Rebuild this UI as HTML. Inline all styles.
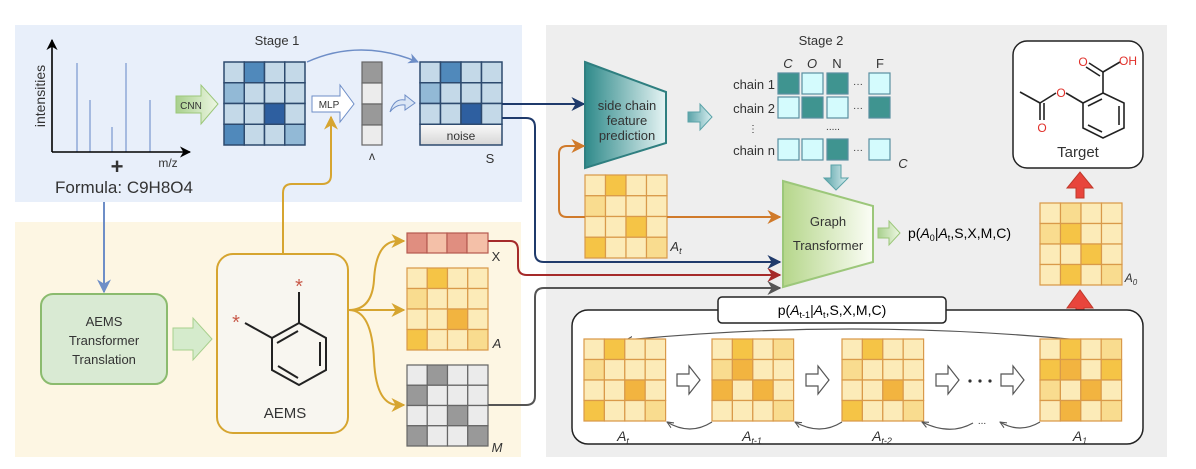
<!DOCTYPE html>
<html><head><meta charset="utf-8"><style>
html,body{margin:0;padding:0;background:#fff;width:1196px;height:469px;overflow:hidden}
text{font-family:"Liberation Sans",sans-serif;fill:#333}
.c rect{vector-effect:non-scaling-stroke}
</style></head><body>
<svg width="1196" height="469" viewBox="0 0 1196 469" xmlns="http://www.w3.org/2000/svg">
<defs>
<marker id="ab" viewBox="0 0 10 10" refX="9" refY="5" markerWidth="7" markerHeight="7" orient="auto"><path d="M0,0 L10,5 L0,10 L3,5z" fill="#1f3a6b"/></marker>
<marker id="ar" viewBox="0 0 10 10" refX="9" refY="5" markerWidth="7" markerHeight="7" orient="auto"><path d="M0,0 L10,5 L0,10 L3,5z" fill="#a52a2a"/></marker>
<marker id="ag" viewBox="0 0 10 10" refX="9" refY="5" markerWidth="7" markerHeight="7" orient="auto"><path d="M0,0 L10,5 L0,10 L3,5z" fill="#555"/></marker>
<marker id="ao" viewBox="0 0 10 10" refX="9" refY="5" markerWidth="7" markerHeight="7" orient="auto"><path d="M0,0 L10,5 L0,10 L3,5z" fill="#d07a2a"/></marker>
<marker id="ay" viewBox="0 0 10 10" refX="9" refY="5" markerWidth="7" markerHeight="7" orient="auto"><path d="M0,0 L10,5 L0,10 L3,5z" fill="#d6a530"/></marker>
<marker id="al" viewBox="0 0 10 10" refX="9" refY="5" markerWidth="7" markerHeight="7" orient="auto"><path d="M0,0 L10,5 L0,10 L3,5z" fill="#6e8ec7"/></marker>
<marker id="ak" viewBox="0 0 10 10" refX="9" refY="5" markerWidth="6" markerHeight="6" orient="auto"><path d="M0,1 L9,5 L0,9" fill="none" stroke="#555" stroke-width="1.5"/></marker>
<marker id="aa" viewBox="0 0 10 10" refX="9" refY="5" markerWidth="7" markerHeight="7" orient="auto"><path d="M0,0 L10,5 L0,10 L3,5z" fill="#000"/></marker>
<linearGradient id="teal" x1="0" x2="1"><stop offset="0" stop-color="#2f8a8a"/><stop offset="1" stop-color="#e6f4f4"/></linearGradient>
<linearGradient id="grn" x1="0" x2="1"><stop offset="0" stop-color="#b5d68a"/><stop offset="1" stop-color="#fbfdf6"/></linearGradient>
<linearGradient id="nz" x1="0" x2="0" y1="0" y2="1"><stop offset="0" stop-color="#fafafa"/><stop offset="1" stop-color="#d6d6d6"/></linearGradient>
<linearGradient id="gar" x1="0" x2="1"><stop offset="0" stop-color="#a8d08d"/><stop offset="1" stop-color="#eef7e4"/></linearGradient>
<linearGradient id="tar" x1="0" x2="1"><stop offset="0" stop-color="#5aa3a8"/><stop offset="1" stop-color="#d8eef0"/></linearGradient>
</defs>

<!-- panels -->
<rect x="15" y="25" width="507" height="177" fill="#e8effa"/>
<rect x="15" y="222" width="506" height="235" fill="#fdf6e3"/>
<rect x="546" y="25" width="621" height="432" fill="#eeeeee"/>

<!-- spectrum -->
<g stroke="#8fa8d8" stroke-width="1.5">
<line x1="77" y1="63" x2="77" y2="152"/><line x1="90" y1="100" x2="90" y2="152"/><line x1="112" y1="127" x2="112" y2="152"/><line x1="126" y1="63" x2="126" y2="152"/><line x1="150" y1="100" x2="150" y2="152"/>
</g>
<line x1="52" y1="152" x2="52" y2="40" stroke="#000" stroke-width="1.6" marker-end="url(#aa)"/>
<line x1="52" y1="152" x2="190" y2="152" stroke="#000" stroke-width="1.6" marker-end="url(#aa)"/>
<text x="45" y="96" font-size="14" text-anchor="middle" transform="rotate(-90 45 96)">intensities</text>
<text x="117" y="174" font-size="22" font-weight="bold" text-anchor="middle">+</text>
<text x="168" y="167" font-size="12" text-anchor="middle">m/z</text>
<text x="124" y="193" font-size="17" text-anchor="middle">Formula: C9H8O4</text>
<text x="277" y="45" font-size="13" text-anchor="middle">Stage 1</text>

<!-- CNN arrow -->
<path d="M176,96 H201 V85 L218,104 L201,124 V113 H176Z" fill="url(#gar)" stroke="#9cc77a"/>
<text x="191" y="109" font-size="10" text-anchor="middle">CNN</text>
<!-- grid1 -->
<g class="c" transform="translate(224,62) scale(20.25,20.75)" stroke="#2d4a6e" stroke-width="1.5">
<rect x="0" y="0" width="1" height="1" fill="#c4d9e8"/><rect x="1" y="0" width="1" height="1" fill="#5089bb"/><rect x="2" y="0" width="1" height="1" fill="#c4d9e8"/><rect x="3" y="0" width="1" height="1" fill="#c4d9e8"/>
<rect x="0" y="1" width="1" height="1" fill="#92b9d6"/><rect x="1" y="1" width="1" height="1" fill="#c4d9e8"/><rect x="2" y="1" width="1" height="1" fill="#c4d9e8"/><rect x="3" y="1" width="1" height="1" fill="#c4d9e8"/>
<rect x="0" y="2" width="1" height="1" fill="#c4d9e8"/><rect x="1" y="2" width="1" height="1" fill="#c4d9e8"/><rect x="2" y="2" width="1" height="1" fill="#2e5fa0"/><rect x="3" y="2" width="1" height="1" fill="#c4d9e8"/>
<rect x="0" y="3" width="1" height="1" fill="#5089bb"/><rect x="1" y="3" width="1" height="1" fill="#c4d9e8"/><rect x="2" y="3" width="1" height="1" fill="#c4d9e8"/><rect x="3" y="3" width="1" height="1" fill="#92b9d6"/>
</g>
<path d="M307,62 Q360,38 418,62" fill="none" stroke="#6e8ec7" stroke-width="1.5" marker-end="url(#al)"/>
<!-- MLP -->
<path d="M312,96 H340 V85 L354,104 L340,122 V112 H312Z" fill="#fff" stroke="#6e8ec7"/>
<text x="329" y="108" font-size="10" text-anchor="middle">MLP</text>
<!-- lambda -->
<g stroke="#666" stroke-width="1.2">
<rect x="362" y="62" width="20" height="21" fill="#999"/><rect x="362" y="83" width="20" height="21" fill="#ececec"/><rect x="362" y="104" width="20" height="21" fill="#999"/><rect x="362" y="125" width="20" height="20" fill="#ececec"/>
</g>
<text x="372" y="160" font-size="12" text-anchor="middle">ʌ</text>
<path d="M390,112 Q394,98 405,100 V95 L415,103 L405,110 V105 Q396,104 390,112Z" fill="#dbe6f5" stroke="#6e8ec7"/>
<!-- S grid -->
<g class="c" transform="translate(420,62) scale(20.5,20.75)" stroke="#2d4a6e" stroke-width="1.5">
<rect x="0" y="0" width="1" height="1" fill="#c4d9e8"/><rect x="1" y="0" width="1" height="1" fill="#5089bb"/><rect x="2" y="0" width="1" height="1" fill="#c4d9e8"/><rect x="3" y="0" width="1" height="1" fill="#c4d9e8"/>
<rect x="0" y="1" width="1" height="1" fill="#92b9d6"/><rect x="1" y="1" width="1" height="1" fill="#c4d9e8"/><rect x="2" y="1" width="1" height="1" fill="#c4d9e8"/><rect x="3" y="1" width="1" height="1" fill="#c4d9e8"/>
<rect x="0" y="2" width="1" height="1" fill="#c4d9e8"/><rect x="1" y="2" width="1" height="1" fill="#c4d9e8"/><rect x="2" y="2" width="1" height="1" fill="#2e5fa0"/><rect x="3" y="2" width="1" height="1" fill="#c4d9e8"/>
<rect x="0" y="3" width="4" height="1" fill="url(#nz)"/>
</g>
<text x="461" y="140" font-size="12" text-anchor="middle">noise</text>
<text x="490" y="163" font-size="13" text-anchor="middle">S</text>

<!-- connectors from S -->
<path d="M502,104 H584" fill="none" stroke="#1f3a6b" stroke-width="2" marker-end="url(#ab)"/>
<path d="M502,118 H526 Q535,118 535,127 V253 Q535,262 544,262 H780" fill="none" stroke="#1f3a6b" stroke-width="2" marker-end="url(#ab)"/>

<!-- lower panel -->
<line x1="104" y1="202" x2="104" y2="292" stroke="#6e8ec7" stroke-width="2" marker-end="url(#al)"/>
<rect x="41" y="294" width="126" height="90" rx="12" fill="#d9ead3" stroke="#8bbb6e" stroke-width="2"/>
<text x="104" y="326" font-size="13" text-anchor="middle">AEMS</text>
<text x="104" y="345" font-size="13" text-anchor="middle">Transformer</text>
<text x="104" y="364" font-size="13" text-anchor="middle">Translation</text>
<path d="M173,328 H193 V318 L212,339 L193,360 V350 H173Z" fill="#d5ebcc" stroke="#a8d08d"/>
<rect x="217" y="254" width="131" height="179" rx="16" fill="#f8f6f0" stroke="#d6a530" stroke-width="2"/>
<path d="M283,254 V193 Q283,184 292,184 H322 Q331,184 331,175 V117" fill="none" stroke="#d6a530" stroke-width="2" marker-end="url(#ay)"/>
<!-- benzene -->
<g stroke="#222" stroke-width="2" fill="none">
<path d="M299,323 L326,338 L326,370 L299,385 L272,370 L272,338 Z"/>
<line x1="299" y1="323" x2="299" y2="292"/><line x1="272" y1="338" x2="245" y2="323"/>
<line x1="277" y1="343" x2="298" y2="331"/><line x1="320" y1="342" x2="320" y2="366"/><line x1="278" y1="366" x2="298" y2="378"/>
</g>
<text x="299" y="293" font-size="20" fill="#c85a4a" style="fill:#c85a4a" text-anchor="middle">*</text>
<text x="236" y="329" font-size="20" style="fill:#c85a4a" text-anchor="middle">*</text>
<text x="285" y="418" font-size="15" text-anchor="middle">AEMS</text>
<!-- branches -->
<g fill="none" stroke="#d6a530" stroke-width="2">
<path d="M349,310 Q372,310 374,280 Q376,241 398,241 H404" marker-end="url(#ay)"/>
<path d="M349,310 H404" marker-end="url(#ay)"/>
<path d="M349,310 Q372,310 374,360 Q376,405 398,405 H404" marker-end="url(#ay)"/>
</g>
<!-- X -->
<g stroke="#b55a50" stroke-width="1.2"><rect x="407" y="233" width="20" height="20" fill="#e08e80"/><rect x="427" y="233" width="20" height="20" fill="#f4c0a8"/><rect x="447" y="233" width="20" height="20" fill="#e08e80"/><rect x="467" y="233" width="21" height="20" fill="#f4c0a8"/></g>
<text x="496" y="261" font-size="13" text-anchor="middle">X</text>
<!-- A -->
<g class="c" transform="translate(407,268) scale(20.25,20.5)" stroke="#d99a4a" stroke-width="1.2">
<rect x="0" y="0" width="1" height="1" fill="#fcebb8"/><rect x="1" y="0" width="1" height="1" fill="#f5c446"/><rect x="2" y="0" width="1" height="1" fill="#fcebb8"/><rect x="3" y="0" width="1" height="1" fill="#fcebb8"/>
<rect x="0" y="1" width="1" height="1" fill="#f9dc8f"/><rect x="1" y="1" width="1" height="1" fill="#fcebb8"/><rect x="2" y="1" width="1" height="1" fill="#fcebb8"/><rect x="3" y="1" width="1" height="1" fill="#fcebb8"/>
<rect x="0" y="2" width="1" height="1" fill="#fcebb8"/><rect x="1" y="2" width="1" height="1" fill="#fcebb8"/><rect x="2" y="2" width="1" height="1" fill="#f2b440"/><rect x="3" y="2" width="1" height="1" fill="#fcebb8"/>
<rect x="0" y="3" width="1" height="1" fill="#f5c446"/><rect x="1" y="3" width="1" height="1" fill="#fcebb8"/><rect x="2" y="3" width="1" height="1" fill="#fcebb8"/><rect x="3" y="3" width="1" height="1" fill="#f9dc8f"/>
</g>
<text x="497" y="348" font-size="13" font-style="italic" text-anchor="middle">A</text>
<!-- M -->
<g class="c" transform="translate(407,365) scale(20.25,20.25)" stroke="#666" stroke-width="1.2">
<rect x="0" y="0" width="1" height="1" fill="#ebebeb"/><rect x="1" y="0" width="1" height="1" fill="#999"/><rect x="2" y="0" width="1" height="1" fill="#ebebeb"/><rect x="3" y="0" width="1" height="1" fill="#ebebeb"/>
<rect x="0" y="1" width="1" height="1" fill="#999"/><rect x="1" y="1" width="1" height="1" fill="#ebebeb"/><rect x="2" y="1" width="1" height="1" fill="#ebebeb"/><rect x="3" y="1" width="1" height="1" fill="#ebebeb"/>
<rect x="0" y="2" width="1" height="1" fill="#ebebeb"/><rect x="1" y="2" width="1" height="1" fill="#ebebeb"/><rect x="2" y="2" width="1" height="1" fill="#999"/><rect x="3" y="2" width="1" height="1" fill="#ebebeb"/>
<rect x="0" y="3" width="1" height="1" fill="#999"/><rect x="1" y="3" width="1" height="1" fill="#ebebeb"/><rect x="2" y="3" width="1" height="1" fill="#ebebeb"/><rect x="3" y="3" width="1" height="1" fill="#999"/>
</g>
<text x="497" y="452" font-size="13" font-style="italic" text-anchor="middle">M</text>
<!-- X & M connectors -->
<path d="M488,241 H510 Q518,241 518,250 V266 Q518,275 527,275 H780" fill="none" stroke="#a52a2a" stroke-width="2" marker-end="url(#ar)"/>
<path d="M488,405 H526 Q535,405 535,396 V297 Q535,288 544,288 H780" fill="none" stroke="#555" stroke-width="2" marker-end="url(#ag)"/>

<!-- Stage 2 -->
<text x="821" y="45" font-size="13" text-anchor="middle">Stage 2</text>
<path d="M585,62 L666,92 L666,143 L585,168 Z" fill="url(#teal)" stroke="#2f7f80" stroke-width="2"/>
<text x="627" y="110" font-size="13" text-anchor="middle">side chain</text>
<text x="627" y="125" font-size="13" text-anchor="middle">feature</text>
<text x="627" y="140" font-size="13" text-anchor="middle">prediction</text>
<path d="M688,112 H700 V104 L712,117 L700,130 V122 H688Z" fill="url(#tar)" stroke="#5aa3a8"/>
<g font-size="13"><text x="788" y="68" text-anchor="middle" font-style="italic">C</text><text x="812" y="68" text-anchor="middle" font-style="italic">O</text><text x="837" y="68" text-anchor="middle">N</text><text x="880" y="68" text-anchor="middle">F</text>
<text x="775" y="89" text-anchor="end">chain 1</text><text x="775" y="113" text-anchor="end">chain 2</text><text x="775" y="155" text-anchor="end">chain n</text>
<text x="753" y="132" text-anchor="middle" font-size="10">⋮</text><text x="833" y="130" text-anchor="middle" font-size="10">.....</text>
<text x="858" y="87" text-anchor="middle" font-size="10">···</text><text x="858" y="111" text-anchor="middle" font-size="10">···</text><text x="858" y="153" text-anchor="middle" font-size="10">···</text>
<text x="903" y="168" text-anchor="middle" font-style="italic">C</text></g>
<g stroke="#5a8fa0" stroke-width="1.2">
<rect x="778" y="73" width="21" height="21" fill="#3f9490"/><rect x="802" y="73" width="21" height="21" fill="#d4fbfd"/><rect x="827" y="73" width="21" height="21" fill="#3f9490"/><rect x="869" y="73" width="21" height="21" fill="#d4fbfd"/>
<rect x="778" y="97" width="21" height="21" fill="#d4fbfd"/><rect x="802" y="97" width="21" height="21" fill="#3f9490"/><rect x="827" y="97" width="21" height="21" fill="#d4fbfd"/><rect x="869" y="97" width="21" height="21" fill="#3f9490"/>
<rect x="778" y="139" width="21" height="21" fill="#d4fbfd"/><rect x="802" y="139" width="21" height="21" fill="#d4fbfd"/><rect x="827" y="139" width="21" height="21" fill="#3f9490"/><rect x="869" y="139" width="21" height="21" fill="#d4fbfd"/>
</g>
<path d="M831,165 H841 V178 H848 L836,190 L824,178 H831Z" fill="url(#tar)" stroke="#5aa3a8"/>
<!-- At grid -->
<g class="c" transform="translate(585,175) scale(20.5,20.75)" stroke="#d99a4a" stroke-width="1.2">
<rect x="0" y="0" width="1" height="1" fill="#fcebb8"/><rect x="1" y="0" width="1" height="1" fill="#f5c446"/><rect x="2" y="0" width="1" height="1" fill="#fcebb8"/><rect x="3" y="0" width="1" height="1" fill="#fcebb8"/>
<rect x="0" y="1" width="1" height="1" fill="#f9dc8f"/><rect x="1" y="1" width="1" height="1" fill="#fcebb8"/><rect x="2" y="1" width="1" height="1" fill="#fcebb8"/><rect x="3" y="1" width="1" height="1" fill="#fcebb8"/>
<rect x="0" y="2" width="1" height="1" fill="#fcebb8"/><rect x="1" y="2" width="1" height="1" fill="#fcebb8"/><rect x="2" y="2" width="1" height="1" fill="#f5c446"/><rect x="3" y="2" width="1" height="1" fill="#fcebb8"/>
<rect x="0" y="3" width="1" height="1" fill="#f5c446"/><rect x="1" y="3" width="1" height="1" fill="#fcebb8"/><rect x="2" y="3" width="1" height="1" fill="#fcebb8"/><rect x="3" y="3" width="1" height="1" fill="#f9dc8f"/>
</g>
<text x="676" y="251" font-size="13" font-style="italic" text-anchor="middle">A<tspan font-size="9" dy="3">t</tspan></text>
<path d="M585,217 H567 Q559,217 559,209 V154 Q559,146 567,146 H584" fill="none" stroke="#d07a2a" stroke-width="2" marker-end="url(#ao)"/>
<path d="M667,217 H780" fill="none" stroke="#d07a2a" stroke-width="2" marker-end="url(#ao)"/>
<!-- Graph transformer -->
<path d="M783,181 L873,206 L873,262 L783,287 Z" fill="url(#grn)" stroke="#9cc77a" stroke-width="2"/>
<text x="828" y="226" font-size="13" text-anchor="middle">Graph</text>
<text x="828" y="250" font-size="13" text-anchor="middle">Transformer</text>
<path d="M878,228 H889 V221 L900,233 L889,245 V238 H878Z" fill="url(#gar)" stroke="#9cc77a"/>
<text x="908" y="238" font-size="14" fill="#000" style="fill:#000">p(<tspan font-style="italic">A</tspan><tspan font-size="9" dy="3">0</tspan><tspan dy="-3">|</tspan><tspan font-style="italic">A</tspan><tspan font-size="9" dy="3">t</tspan><tspan dy="-3">,S,X,M,C)</tspan></text>
<!-- A0 -->
<g class="c" transform="translate(1040,203) scale(20.5,20.5)" stroke="#d99a4a" stroke-width="1.2">
<rect x="0" y="0" width="1" height="1" fill="#fcebb8"/><rect x="1" y="0" width="1" height="1" fill="#f9dc8f"/><rect x="2" y="0" width="1" height="1" fill="#fcebb8"/><rect x="3" y="0" width="1" height="1" fill="#fcebb8"/>
<rect x="0" y="1" width="1" height="1" fill="#f9dc8f"/><rect x="1" y="1" width="1" height="1" fill="#f5c446"/><rect x="2" y="1" width="1" height="1" fill="#fcebb8"/><rect x="3" y="1" width="1" height="1" fill="#fcebb8"/>
<rect x="0" y="2" width="1" height="1" fill="#fcebb8"/><rect x="1" y="2" width="1" height="1" fill="#fcebb8"/><rect x="2" y="2" width="1" height="1" fill="#f5c446"/><rect x="3" y="2" width="1" height="1" fill="#fcebb8"/>
<rect x="0" y="3" width="1" height="1" fill="#fcebb8"/><rect x="1" y="3" width="1" height="1" fill="#f5c446"/><rect x="2" y="3" width="1" height="1" fill="#fcebb8"/><rect x="3" y="3" width="1" height="1" fill="#f9dc8f"/>
</g>
<text x="1131" y="282" font-size="12" font-style="italic" text-anchor="middle">A<tspan font-size="8" dy="3">0</tspan></text>
<!-- red arrows -->
<path d="M1076,198 V188 H1067 L1080,172 L1093,188 H1084 V198Z" fill="#e8453c" stroke="#c0392b"/>
<path d="M1076,330 V308 H1067 L1080,290 L1093,308 H1084 V330Z" fill="#e8453c" stroke="#c0392b"/>
<!-- Target -->
<rect x="1013" y="41" width="130" height="127" rx="14" fill="#fff" stroke="#222" stroke-width="1.5"/>
<g stroke="#222" stroke-width="1.6" fill="none">
<path d="M1103,93 L1124,103 L1124,128 L1103,138 L1083,128 L1083,103 Z"/>
<line x1="1119" y1="106" x2="1119" y2="125"/><line x1="1088" y1="106" x2="1102" y2="99"/><line x1="1088" y1="125" x2="1102" y2="132"/>
<line x1="1103" y1="93" x2="1103" y2="72"/><line x1="1103" y1="72" x2="1089" y2="63"/><line x1="1100" y1="76" x2="1086" y2="67"/><line x1="1103" y1="72" x2="1120" y2="62"/>
<line x1="1083" y1="103" x2="1066" y2="93"/><line x1="1056" y1="93" x2="1040" y2="103"/><line x1="1040" y1="103" x2="1020" y2="92"/>
<line x1="1040" y1="103" x2="1040" y2="120"/><line x1="1044" y1="103" x2="1044" y2="120"/>
</g>
<g font-size="12" style="fill:#e0302a"><text x="1083" y="66" text-anchor="middle" style="fill:#e0302a">O</text><text x="1128" y="65" text-anchor="middle" style="fill:#e0302a">OH</text><text x="1061" y="97" text-anchor="middle" style="fill:#e0302a">O</text><text x="1042" y="132" text-anchor="middle" style="fill:#e0302a">O</text></g>
<text x="1078" y="157" font-size="15" text-anchor="middle">Target</text>

<!-- bottom loop box -->
<rect x="572" y="310" width="571" height="134" rx="16" fill="#fff" stroke="#222" stroke-width="1.5"/>
<rect x="718" y="297" width="228" height="26" rx="4" fill="#fff" stroke="#222" stroke-width="1.5"/>
<text x="832" y="315" font-size="14" text-anchor="middle" style="fill:#000">p(<tspan font-style="italic">A</tspan><tspan font-size="9" dy="3">t-1</tspan><tspan dy="-3">|</tspan><tspan font-style="italic">A</tspan><tspan font-size="9" dy="3">t</tspan><tspan dy="-3">,S,X,M,C)</tspan></text>
<path d="M1080,340 Q850,318 626,340" fill="none" stroke="#555" stroke-width="1.2" marker-end="url(#ak)"/>
<!-- grid template rows -->
<g class="c" transform="translate(584,339) scale(20.4,20.5)" stroke="#d99a4a" stroke-width="1.2">
<rect x="0" y="0" width="1" height="1" fill="#fcebb8"/><rect x="1" y="0" width="1" height="1" fill="#f5c446"/><rect x="2" y="0" width="1" height="1" fill="#fcebb8"/><rect x="3" y="0" width="1" height="1" fill="#fcebb8"/>
<rect x="0" y="1" width="1" height="1" fill="#f9dc8f"/><rect x="1" y="1" width="1" height="1" fill="#fcebb8"/><rect x="2" y="1" width="1" height="1" fill="#fcebb8"/><rect x="3" y="1" width="1" height="1" fill="#fcebb8"/>
<rect x="0" y="2" width="1" height="1" fill="#fcebb8"/><rect x="1" y="2" width="1" height="1" fill="#fcebb8"/><rect x="2" y="2" width="1" height="1" fill="#f2b440"/><rect x="3" y="2" width="1" height="1" fill="#fcebb8"/>
<rect x="0" y="3" width="1" height="1" fill="#f5c446"/><rect x="1" y="3" width="1" height="1" fill="#fcebb8"/><rect x="2" y="3" width="1" height="1" fill="#fcebb8"/><rect x="3" y="3" width="1" height="1" fill="#f9dc8f"/>
</g>
<g class="c" transform="translate(712,339) scale(20.4,20.5)" stroke="#d99a4a" stroke-width="1.2">
<rect x="0" y="0" width="1" height="1" fill="#fcebb8"/><rect x="1" y="0" width="1" height="1" fill="#f5c446"/><rect x="2" y="0" width="1" height="1" fill="#fcebb8"/><rect x="3" y="0" width="1" height="1" fill="#f9dc8f"/>
<rect x="0" y="1" width="1" height="1" fill="#f9dc8f"/><rect x="1" y="1" width="1" height="1" fill="#f2b440"/><rect x="2" y="1" width="1" height="1" fill="#fcebb8"/><rect x="3" y="1" width="1" height="1" fill="#fcebb8"/>
<rect x="0" y="2" width="1" height="1" fill="#f2b440"/><rect x="1" y="2" width="1" height="1" fill="#fcebb8"/><rect x="2" y="2" width="1" height="1" fill="#f2b440"/><rect x="3" y="2" width="1" height="1" fill="#fcebb8"/>
<rect x="0" y="3" width="1" height="1" fill="#fcebb8"/><rect x="1" y="3" width="1" height="1" fill="#fcebb8"/><rect x="2" y="3" width="1" height="1" fill="#fcebb8"/><rect x="3" y="3" width="1" height="1" fill="#f9dc8f"/>
</g>
<g class="c" transform="translate(842,339) scale(20.4,20.5)" stroke="#d99a4a" stroke-width="1.2">
<rect x="0" y="0" width="1" height="1" fill="#fcebb8"/><rect x="1" y="0" width="1" height="1" fill="#f5c446"/><rect x="2" y="0" width="1" height="1" fill="#fcebb8"/><rect x="3" y="0" width="1" height="1" fill="#fcebb8"/>
<rect x="0" y="1" width="1" height="1" fill="#f9dc8f"/><rect x="1" y="1" width="1" height="1" fill="#fcebb8"/><rect x="2" y="1" width="1" height="1" fill="#fcebb8"/><rect x="3" y="1" width="1" height="1" fill="#fcebb8"/>
<rect x="0" y="2" width="1" height="1" fill="#fcebb8"/><rect x="1" y="2" width="1" height="1" fill="#fcebb8"/><rect x="2" y="2" width="1" height="1" fill="#f2b440"/><rect x="3" y="2" width="1" height="1" fill="#fcebb8"/>
<rect x="0" y="3" width="1" height="1" fill="#f5c446"/><rect x="1" y="3" width="1" height="1" fill="#fcebb8"/><rect x="2" y="3" width="1" height="1" fill="#fcebb8"/><rect x="3" y="3" width="1" height="1" fill="#f9dc8f"/>
</g>
<g class="c" transform="translate(1040,339) scale(20.4,20.5)" stroke="#d99a4a" stroke-width="1.2">
<rect x="0" y="0" width="1" height="1" fill="#fcebb8"/><rect x="1" y="0" width="1" height="1" fill="#f5c446"/><rect x="2" y="0" width="1" height="1" fill="#fcebb8"/><rect x="3" y="0" width="1" height="1" fill="#f9dc8f"/>
<rect x="0" y="1" width="1" height="1" fill="#f5c446"/><rect x="1" y="1" width="1" height="1" fill="#f2b440"/><rect x="2" y="1" width="1" height="1" fill="#fcebb8"/><rect x="3" y="1" width="1" height="1" fill="#f5c446"/>
<rect x="0" y="2" width="1" height="1" fill="#f9dc8f"/><rect x="1" y="2" width="1" height="1" fill="#fcebb8"/><rect x="2" y="2" width="1" height="1" fill="#f2b440"/><rect x="3" y="2" width="1" height="1" fill="#fcebb8"/>
<rect x="0" y="3" width="1" height="1" fill="#fcebb8"/><rect x="1" y="3" width="1" height="1" fill="#f2b440"/><rect x="2" y="3" width="1" height="1" fill="#fcebb8"/><rect x="3" y="3" width="1" height="1" fill="#f9dc8f"/>
</g>
<!-- hollow arrows -->
<g fill="#fff" stroke="#555" stroke-width="1.2">
<path d="M677,374 H689 V366 L700,380 L689,394 V386 H677Z"/>
<path d="M806,374 H818 V366 L829,380 L818,394 V386 H806Z"/>
<path d="M936,374 H948 V366 L959,380 L948,394 V386 H936Z"/>
<path d="M1001,374 H1013 V366 L1024,380 L1013,394 V386 H1001Z"/>
</g>
<g fill="#333"><circle cx="970" cy="381" r="1.6"/><circle cx="980" cy="381" r="1.6"/><circle cx="990" cy="381" r="1.6"/></g>
<g fill="none" stroke="#555" stroke-width="1.2">
<path d="M712,422 Q690,436 667,422" marker-end="url(#ak)"/>
<path d="M842,422 Q820,436 795,422" marker-end="url(#ak)"/>
<path d="M973,423 Q950,436 922,422" marker-end="url(#ak)"/>
<path d="M1040,422 Q1020,434 1000,422" marker-end="url(#ak)"/>
</g>
<text x="982" y="424" font-size="10" text-anchor="middle">...</text>
<g font-size="14" font-style="italic">
<text x="623" y="441" text-anchor="middle">A<tspan font-size="9" dy="3">t</tspan></text>
<text x="752" y="441" text-anchor="middle">A<tspan font-size="9" dy="3">t-1</tspan></text>
<text x="882" y="441" text-anchor="middle">A<tspan font-size="9" dy="3">t-2</tspan></text>
<text x="1080" y="441" text-anchor="middle">A<tspan font-size="9" dy="3">1</tspan></text>
</g>
</svg>
</body></html>
